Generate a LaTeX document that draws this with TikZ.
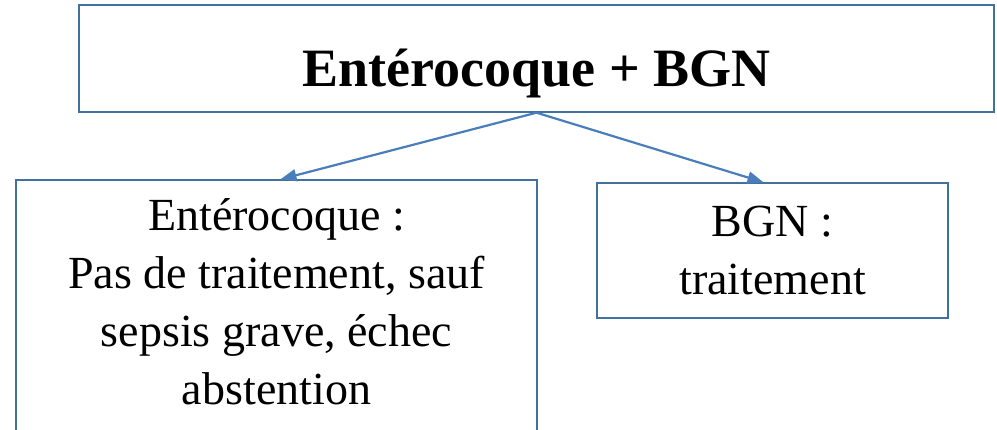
\documentclass[tikz,border=0pt]{standalone}
\usepackage{fontspec}
\setmainfont{Liberation Serif}
\usetikzlibrary{arrows.meta}
\definecolor{boxline}{HTML}{41719C}
\definecolor{arrowline}{HTML}{4A7EBB}
\begin{document}
\begin{tikzpicture}[x=1pt,y=-1pt,
  frame/.style={draw=boxline,line width=1.4pt,rectangle,inner sep=0pt},
  label/.style={inner sep=0pt,align=center,anchor=base,font=\fontsize{46}{58}\selectfont},
  link/.style={draw=arrowline,line width=2.2pt,-{Triangle[length=16pt,width=12pt]}}]
  \useasboundingbox (0,0) rectangle (997,430);
  \clip (0,0) rectangle (997,430);
  % boxes
  \node[frame,minimum width=915pt,minimum height=107pt] (top) at (536.5,58.5) {};
  \node[frame,minimum width=521pt,minimum height=280pt] (left) at (276.5,320) {};
  \node[frame,minimum width=351pt,minimum height=135pt] (right) at (772.5,250.5) {};
  % texts (base anchor sits on the last line)
  \node[label,font=\fontsize{54}{60}\selectfont\bfseries] (toptext) at (536.5,87) {Entérocoque + BGN};
  \node[label] (lefttext) at (276.5,405) {Entérocoque :\\Pas de traitement, sauf\\sepsis grave, échec\\abstention};
  \node[label] (righttext) at (772.5,295) {BGN :\\traitement};
  % connectors
  \draw[link] (top.south) -- ([xshift=4pt]left.north);
  \draw[link] (top.south) -- ([xshift=-9pt]right.north);
\end{tikzpicture}
\end{document}
